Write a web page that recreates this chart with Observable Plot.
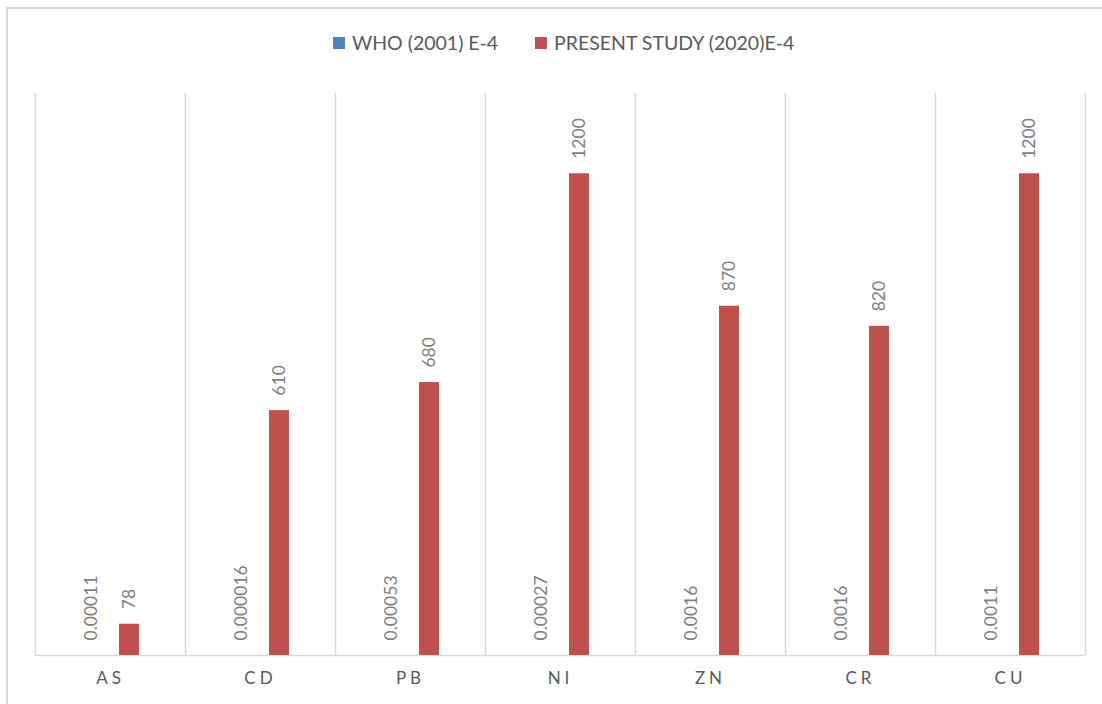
<!DOCTYPE html>
<html>
<head>
<meta charset="utf-8">
<script src="https://cdn.jsdelivr.net/npm/d3@7"></script>
<script src="https://cdn.jsdelivr.net/npm/@observablehq/plot@0.6"></script>
<style>
  html, body { margin: 0; padding: 0; background: #fff; overflow: hidden; }
  #wrap { position: relative; width: 1102px; height: 704px; font-family: Lato, "Open Sans", sans-serif; }
  #frame { position: absolute; left: 6px; top: 7px; width: 1200px; height: 800px;
           border: 2px solid #d9d9d9; pointer-events: none; }
  .legend-item { position: absolute; top: 31px; display: flex; align-items: center;
                 font-size: 19.5px; color: #595959; white-space: nowrap; }
  .legend-item .sw { width: 12px; height: 12px; margin-right: 7px; }
  g[aria-label="x-axis tick label"] text { letter-spacing: 4px; }
</style>
</head>
<body>
<div id="wrap"></div>
<script>
// Heavy metal concentrations: WHO reference vs. present study (values in E-4)
const categories = ["AS", "CD", "PB", "NI", "ZN", "CR", "CU"];
const seriesNames = ["WHO (2001) E-4", "PRESENT STUDY (2020)E-4"];
const seriesColors = ["#4F81BD", "#C0504D"];
const whoValues = [0.00011, 0.000016, 0.00053, 0.00027, 0.0016, 0.0016, 0.0011];
const whoLabels = ["0.00011", "0.000016", "0.00053", "0.00027", "0.0016", "0.0016", "0.0011"];
const studyValues = [78, 610, 680, 1200, 870, 820, 1200];
const studyLabels = ["78", "610", "680", "1200", "870", "820", "1200"];

const whoRows = categories.map((c, i) => ({element: c, value: whoValues[i], label: whoLabels[i]}));
const studyRows = categories.map((c, i) => ({element: c, value: studyValues[i], label: studyLabels[i]}));

const labelStyle = {
  x: "element", y: "value", text: "label", rotate: -90,
  textAnchor: "start", lineAnchor: "middle", dy: -15,
  fontSize: 17.5, fill: "#7f7f7f"
};

const chart = Plot.plot({
  width: 1102,
  height: 704,
  marginTop: 93,
  marginBottom: 49,
  marginLeft: 35,
  marginRight: 17,
  style: {fontFamily: "Lato, 'Open Sans', sans-serif", background: "transparent"},
  x: {domain: categories, padding: 0, axis: null},
  y: {domain: [0, 1400], axis: null},
  marks: [
    // category separators
    Plot.ruleX(categories, {x: d => d, dx: -75, stroke: "#d9d9d9", strokeWidth: 1.5}),
    Plot.ruleX(categories.slice(-1), {x: d => d, dx: 75, stroke: "#d9d9d9", strokeWidth: 1.5}),
    Plot.ruleY([0], {stroke: "#d9d9d9", strokeWidth: 1.5}),
    Plot.barY(whoRows, {x: "element", y: "value", fill: seriesColors[0], insetLeft: 46, insetRight: 84}),
    Plot.barY(studyRows, {x: "element", y: "value", fill: seriesColors[1], insetLeft: 84, insetRight: 46}),
    Plot.text(whoRows, {...labelStyle, dx: -19}),
    Plot.text(studyRows, {...labelStyle, dx: 19}),
    Plot.axisX({tickSize: 0, tickPadding: 16, fontSize: 17, fill: "#595959", label: null})
  ]
});

const wrap = document.getElementById("wrap");
wrap.appendChild(chart);
chart.style.position = "absolute";
chart.style.left = "0px";
chart.style.top = "0px";

const frame = document.createElement("div");
frame.id = "frame";
wrap.appendChild(frame);

// legend
const legendLefts = [333, 535];
seriesNames.forEach((name, i) => {
  const item = document.createElement("div");
  item.className = "legend-item";
  item.style.left = legendLefts[i] + "px";
  const sw = document.createElement("span");
  sw.className = "sw";
  sw.style.background = seriesColors[i];
  const tx = document.createElement("span");
  tx.textContent = name;
  item.appendChild(sw);
  item.appendChild(tx);
  wrap.appendChild(item);
});
</script>
</body>
</html>
